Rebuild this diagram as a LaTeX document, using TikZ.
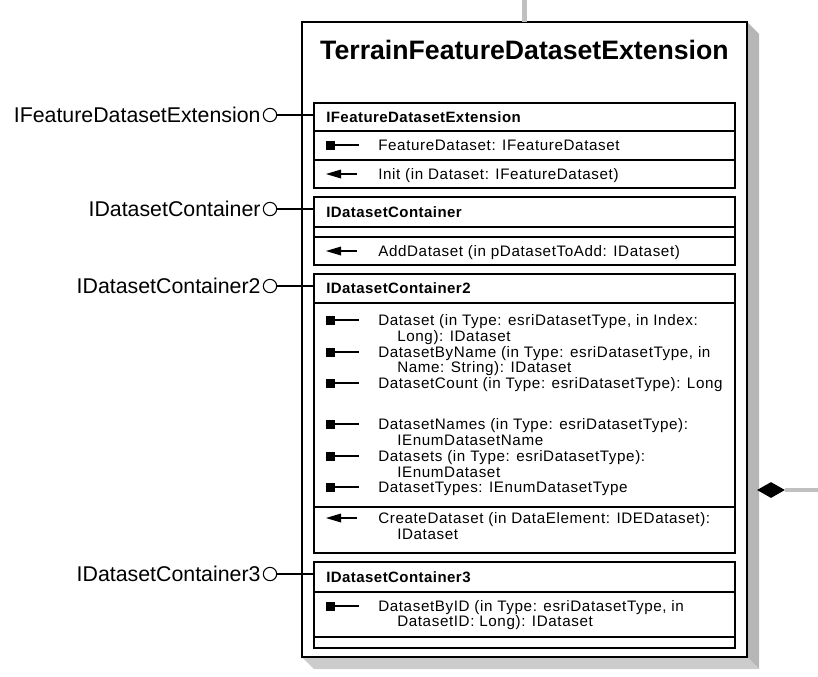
\documentclass[tikz,border=0pt]{standalone}
\usepackage{fontspec}
\setmainfont{Liberation Sans}
\newfontfamily\memberfont[LetterSpace=4]{Liberation Sans}
\newfontfamily\headerfont[LetterSpace=3]{Liberation Sans}
\usepackage{tikz}
\usetikzlibrary{arrows,positioning,shapes.geometric}
\definecolor{shadowdark}{RGB}{182,182,182}
\definecolor{shadowlight}{RGB}{204,204,204}
\definecolor{linkgray}{RGB}{192,192,192}

\begin{document}
\begin{tikzpicture}
	[x=0.75pt,y=-0.75pt,
	 iface/.style={font=\fontsize{16}{18}\selectfont,inner sep=0pt},
	 lolli/.style={circle,draw,line width=0.8pt,minimum size=10pt,inner sep=0pt,fill=white},
	 title/.style={font=\bfseries\fontsize{20}{24}\selectfont,anchor=base,inner sep=0pt},
	 header/.style={font=\headerfont\bfseries\fontsize{11.25}{13}\selectfont,anchor=base west,inner sep=0pt},
	 member/.style={font=\memberfont\fontsize{11.4}{13}\selectfont,anchor=base west,inner sep=0pt},
	 box/.style={draw,line width=1.2pt,fill=white},
	 link/.style={line width=1.1pt},
	 icon/.style={line width=1.4pt},
	 graylink/.style={draw=linkgray,line width=3.6pt}]
\useasboundingbox (0,0) rectangle (818,676);
% shadow of the class box
\fill[shadowdark] (747,22) -- (759,34) -- (759,669) -- (747,657) -- cycle;
\fill[shadowlight] (302,657) -- (314,669) -- (759,669) -- (747,657) -- cycle;
% class box and title
\draw[box] (302,22) rectangle (747,657);
\node[title] (cls) at (524.5,59) {TerrainFeatureDatasetExtension};
% links to other classes
\coordinate (topend) at (524.5,0);
\coordinate (topbox) at (524.5,22);
\draw[graylink] (topend) -- (topbox);
\node[diamond,fill=black,inner sep=0pt,minimum width=21pt,minimum height=12pt] (agg) at (771,490) {};
\coordinate (rightend) at (818,490);
\draw[graylink] (agg.east) -- (rightend);
% interface boxes
\draw[box] (314,103) rectangle (735,188);
\draw[link] (314,131) -- (735,131) (314,160) -- (735,160);
\draw[box] (314,197) rectangle (735,265);
\draw[link] (314,227) -- (735,227) (314,237) -- (735,237);
\draw[box] (314,274) rectangle (735,553);
\draw[link] (314,303) -- (735,303) (314,507) -- (735,507);
\draw[box] (314,562) rectangle (735,648);
\draw[link] (314,592) -- (735,592) (314,637) -- (735,637);
% lollipops
\foreach \n/\y/\t in {1/115/IFeatureDatasetExtension,2/209/IDatasetContainer,
	3/286/IDatasetContainer2,4/574/IDatasetContainer3}
{
\coordinate (p\n) at (314,\y);
\node[lolli] (c\n) at (270,\y) {};
\node[iface,left=1.5pt of c\n] (l\n) {\t};
\draw[link] (c\n) -- (p\n);
}
% headers
\node[header] (h1) at (326,122) {IFeatureDatasetExtension};
\node[header] (h2) at (326,217) {IDatasetContainer};
\node[header] (h3) at (326,293.5) {IDatasetContainer2};
\node[header] (h4) at (326,582) {IDatasetContainer3};
% property and method icons
\foreach \y in {145,320,352,383,424,456,487,606}
{
\fill (325.5,\y-4.5) rectangle (334.5,\y+4.5);
\draw[icon] (334,\y) -- (359,\y);
}
\foreach \y in {174,251,518}
{
\fill (326,\y) -- (341,\y-4.5) -- (341,\y+4.5) -- cycle;
\draw[icon] (340,\y) -- (357,\y);
}
% members
\node[member] (m1) at (378,150) {FeatureDataset: IFeatureDataset};
\node[member] (m2) at (378,179) {Init (in Dataset: IFeatureDataset)};
\node[member] (m3) at (378,256) {AddDataset (in pDatasetToAdd: IDataset)};
\node[member] (m4) at (378,325) {Dataset (in Type: esriDatasetType, in Index:};
\node[member] (m4b) at (397,341) {Long): IDataset};
\node[member] (m5) at (378,357) {DatasetByName (in Type: esriDatasetType, in};
\node[member] (m5b) at (397,372) {Name: String): IDataset};
\node[member] (m6) at (378,388) {DatasetCount (in Type: esriDatasetType): Long};
\node[member] (m7) at (378,429) {DatasetNames (in Type: esriDatasetType):};
\node[member] (m7b) at (397,445) {IEnumDatasetName};
\node[member] (m8) at (378,461) {Datasets (in Type: esriDatasetType):};
\node[member] (m8b) at (397,477) {IEnumDataset};
\node[member] (m9) at (378,492) {DatasetTypes: IEnumDatasetType};
\node[member] (m10) at (378,523) {CreateDataset (in DataElement: IDEDataset):};
\node[member] (m10b) at (397,539) {IDataset};
\node[member] (m11) at (378,611) {DatasetByID (in Type: esriDatasetType, in};
\node[member] (m11b) at (397,626) {DatasetID: Long): IDataset};
\end{tikzpicture}
\end{document}
